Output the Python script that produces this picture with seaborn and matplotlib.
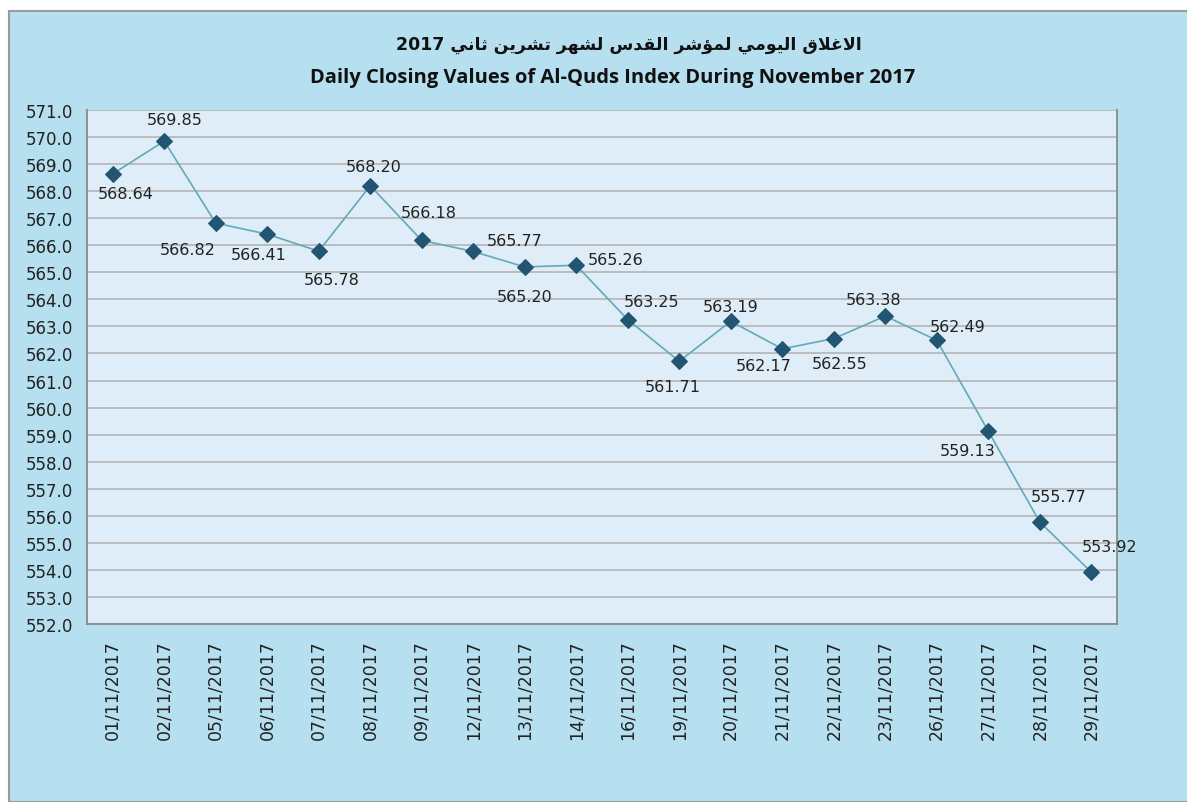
import numpy as np
import pandas as pd
import matplotlib
matplotlib.use("Agg")
import matplotlib.pyplot as plt
import seaborn as sns
from matplotlib.patches import Rectangle

# ----------------------------------------------------
# Data
# ----------------------------------------------------
dates = ["01/11/2017", "02/11/2017", "05/11/2017", "06/11/2017", "07/11/2017",
         "08/11/2017", "09/11/2017", "12/11/2017", "13/11/2017", "14/11/2017",
         "16/11/2017", "19/11/2017", "20/11/2017", "21/11/2017", "22/11/2017",
         "23/11/2017", "26/11/2017", "27/11/2017", "28/11/2017", "29/11/2017"]
closing = [568.64, 569.85, 566.82, 566.41, 565.78,
           568.20, 566.18, 565.77, 565.20, 565.26,
           563.25, 561.71, 563.19, 562.17, 562.55,
           563.38, 562.49, 559.13, 555.77, 553.92]
y_ticks = np.arange(552, 572, 1)

title_ar = "الاغلاق اليومي لمؤشر القدس لشهر تشرين ثاني 2017"
title_en = "Daily Closing Values of Al-Quds Index During November 2017"

# label offsets (pixels) around each point
label_dx = [13, 10, -28, -9, 13, 3, 7, 41, 0, 39, 24, -6, 0, -19, 6, -12, 21, -21, 19, 18]
label_dy = [-20, 22, -26, -20, -28, 19, 28, 11, -30, 6, 18, -25, 15, -17, -25, 17, 14, -19, 26, 26]

# ----------------------------------------------------
# Small Arabic shaper (matplotlib has no RTL/joining support)
# ----------------------------------------------------
# letter: (isolated, final, initial, medial) ; None -> non-joining to the next letter
FORMS = {
    "ا": ("\uFE8D", "\uFE8E", None, None),
    "ل": ("\uFEDD", "\uFEDE", "\uFEDF", "\uFEE0"),
    "غ": ("\uFECD", "\uFECE", "\uFECF", "\uFED0"),
    "ق": ("\uFED5", "\uFED6", "\uFED7", "\uFED8"),
    "ي": ("\uFEF1", "\uFEF2", "\uFEF3", "\uFEF4"),
    "و": ("\uFEED", "\uFEEE", None, None),
    "م": ("\uFEE1", "\uFEE2", "\uFEE3", "\uFEE4"),
    "ؤ": ("\uFE85", "\uFE86", None, None),
    "ش": ("\uFEB5", "\uFEB6", "\uFEB7", "\uFEB8"),
    "ر": ("\uFEAD", "\uFEAE", None, None),
    "د": ("\uFEA9", "\uFEAA", None, None),
    "س": ("\uFEB1", "\uFEB2", "\uFEB3", "\uFEB4"),
    "ه": ("\uFEE9", "\uFEEA", "\uFEEB", "\uFEEC"),
    "ت": ("\uFE95", "\uFE96", "\uFE97", "\uFE98"),
    "ن": ("\uFEE5", "\uFEE6", "\uFEE7", "\uFEE8"),
    "ث": ("\uFE99", "\uFE9A", "\uFE9B", "\uFE9C"),
    "لا": ("\uFEFB", "\uFEFC", None, None),
}


def shape_word(word):
    # split into units, merging lam-alef
    units = []
    i = 0
    while i < len(word):
        if word[i] == "ل" and i + 1 < len(word) and word[i + 1] == "ا":
            units.append("لا")
            i += 2
        else:
            units.append(word[i])
            i += 1
    out = []
    for k, u in enumerate(units):
        if u not in FORMS:
            out.append(u)
            continue
        iso, fin, ini, med = FORMS[u]
        prev_joins = k > 0 and units[k - 1] in FORMS and FORMS[units[k - 1]][2] is not None
        next_joins = k < len(units) - 1 and units[k + 1] in FORMS and ini is not None
        if prev_joins and next_joins:
            out.append(med)
        elif prev_joins:
            out.append(fin)
        elif next_joins:
            out.append(ini)
        else:
            out.append(iso)
    return "".join(reversed(out))


def shape_rtl(text):
    words = text.split(" ")
    shaped = [shape_word(w) if any(c in FORMS for c in w) else w for w in words]
    return " ".join(reversed(shaped))


# ----------------------------------------------------
# Figure
# ----------------------------------------------------
sns.set_style("white")
plt.rcParams["font.family"] = ["DejaVu Sans"]

df = pd.DataFrame({"pos": np.arange(len(dates)), "value": closing})

fig = plt.figure(figsize=(11.87, 8.03), dpi=100, facecolor="white")
fig.patches.append(Rectangle((9 / 1187, 0), 1.0, 1 - 12 / 803, transform=fig.transFigure,
                             facecolor="#b6dfef", edgecolor="#9a9a9a", linewidth=1.5, zorder=-10))

ax = fig.add_axes([87 / 1187, 1 - 625 / 803, (1117 - 87) / 1187, (625 - 111) / 803])
ax.set_facecolor("#deedf7")

sns.lineplot(data=df, x="pos", y="value", ax=ax, color="#62a9ba", linewidth=1.2,
             marker="D", markersize=8, markerfacecolor="#215572", markeredgecolor="#215572",
             zorder=3)

for i, v in enumerate(closing):
    ax.annotate(f"{v:.2f}", (i, v), xytext=(label_dx[i], label_dy[i]), textcoords="offset pixels",
                ha="center", va="center", fontsize=11.5, color="#222222", zorder=4)

ax.set_xlim(-0.5, len(dates) - 0.5)
ax.set_ylim(552, 571)
ax.set_yticks(y_ticks)
ax.set_yticklabels([f"{t:.1f}" for t in y_ticks], fontsize=12, color="#222222")
ax.set_xticks(np.arange(len(dates)))
ax.set_xticklabels(dates, rotation=90, fontsize=12.5, color="#222222")
ax.set_xticks(np.arange(len(dates) + 1) - 0.5, minor=True)
ax.tick_params(axis="x", which="major", length=0, pad=11)
ax.tick_params(axis="x", which="minor", length=6, width=1.2, color="#8a8a8a", direction="out")
ax.tick_params(axis="y", length=6, width=1.2, color="#8a8a8a", direction="out", pad=4)
ax.grid(axis="y", color="#b8b8b8", linewidth=1.3)
ax.set_axisbelow(True)
ax.set_xlabel("")
ax.set_ylabel("")
for side in ["left", "bottom", "right"]:
    ax.spines[side].set_color("#8a8a8a")
    ax.spines[side].set_linewidth(1.3)
ax.spines["top"].set_visible(False)

fig.text(0.53, 1 - 45 / 803, shape_rtl(title_ar), ha="center", va="center",
         fontsize=12.5, fontweight="bold", color="#111111")
fig.text(0.516, 1 - 78 / 803, title_en, ha="center", va="center",
         fontsize=14.5, fontweight="bold", color="#111111", family=["Open Sans", "DejaVu Sans"])

fig.savefig("out.png", dpi=100, facecolor=fig.get_facecolor())
